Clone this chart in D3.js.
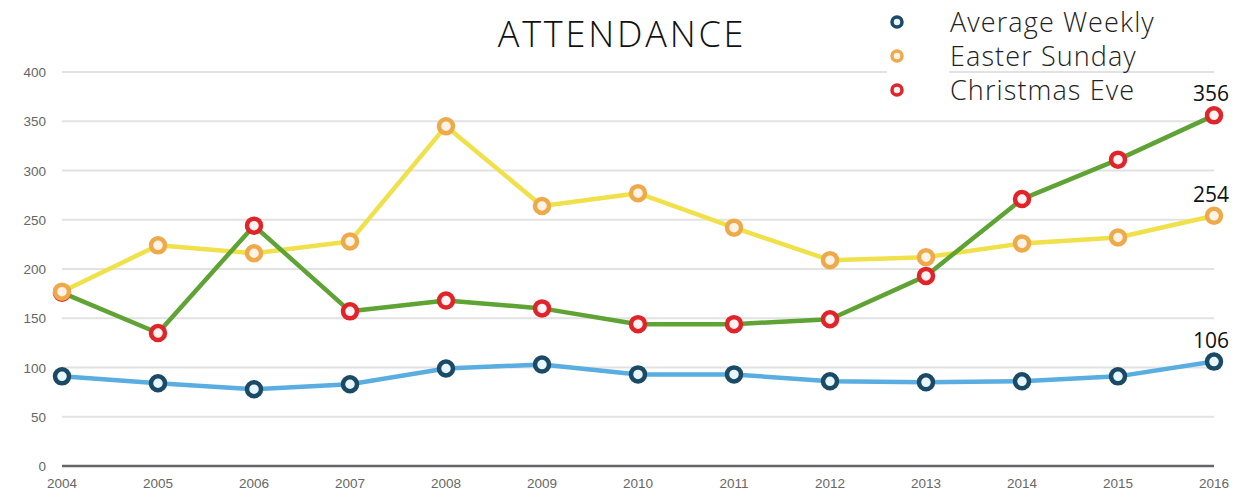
<!DOCTYPE html>
<html>
<head>
<meta charset="utf-8">
<script src="https://cdn.jsdelivr.net/npm/d3@7"></script>
<style>
  body { margin: 0; background: #fff; }
</style>
</head>
<body>
<div id="chart"></div>
<script>
// data
const years = [2004, 2005, 2006, 2007, 2008, 2009, 2010, 2011, 2012, 2013, 2014, 2015, 2016];
const averageWeekly = [91, 84, 78, 83, 99, 103, 93, 93, 86, 85, 86, 91, 106];
const easterSunday = [177, 224, 216, 228, 345, 264, 277, 242, 209, 212, 226, 232, 254];
const christmasEve = [176, 135, 244, 157, 168, 160, 144, 144, 149, 193, 271, 311, 356];
const yTicks = [0, 50, 100, 150, 200, 250, 300, 350, 400];

const width = 1251;
const height = 500;

const svg = d3.select("#chart").append("svg")
  .attr("width", width)
  .attr("height", height);

const x = d3.scalePoint().domain(years).range([62, 1214]);
const y = d3.scaleLinear().domain([0, 400]).range([466, 72]);

// gridlines
svg.append("g")
  .selectAll("line")
  .data(yTicks.filter(d => d > 0))
  .enter()
  .append("line")
  .attr("x1", 62).attr("x2", 1214)
  .attr("y1", d => y(d)).attr("y2", d => y(d))
  .attr("stroke", "#e2e2e2")
  .attr("stroke-width", 2);

// y labels
svg.append("g")
  .selectAll("text")
  .data(yTicks)
  .enter()
  .append("text")
  .attr("x", 46)
  .attr("y", d => y(d) + 5)
  .attr("text-anchor", "end")
  .attr("font-family", "Liberation Sans, sans-serif")
  .attr("font-size", 13.5)
  .attr("fill", "#666")
  .text(d => d);

// x axis line
svg.append("line")
  .attr("x1", 62).attr("x2", 1214)
  .attr("y1", y(0)).attr("y2", y(0))
  .attr("stroke", "#666")
  .attr("stroke-width", 2.5);

// x labels
svg.append("g")
  .selectAll("text")
  .data(years)
  .enter()
  .append("text")
  .attr("x", d => x(d))
  .attr("y", 488)
  .attr("text-anchor", "middle")
  .attr("font-family", "Liberation Sans, sans-serif")
  .attr("font-size", 13.5)
  .attr("fill", "#666")
  .text(d => d);

const series = [
  { name: "Average Weekly", values: averageWeekly, line: "#5aade0", marker: "#1b4a66", fill: "#e8f6ff" },
  { name: "Easter Sunday", values: easterSunday, line: "#f0e04a", marker: "#eeaa4a", fill: "#fff3e6" },
  { name: "Christmas Eve", values: christmasEve, line: "#5ea334", marker: "#e0242a", fill: "#fff2f2" }
];

const line = d3.line()
  .x((d, i) => x(years[i]))
  .y(d => y(d));

// lines first, then markers
series.forEach(s => {
  svg.append("path")
    .attr("d", line(s.values))
    .attr("fill", "none")
    .attr("stroke", s.line)
    .attr("stroke-width", 4.5)
    .attr("stroke-linejoin", "round");
});

// easter markers sit on top (see 2004)
[series[0], series[2], series[1]].forEach(s => {
  svg.append("g")
    .selectAll("circle")
    .data(s.values)
    .enter()
    .append("circle")
    .attr("cx", (d, i) => x(years[i]))
    .attr("cy", d => y(d))
    .attr("r", 7)
    .attr("fill", s.fill)
    .attr("stroke", s.marker)
    .attr("stroke-width", 4.5);
});

// end value labels
series.forEach(s => {
  const last = s.values[s.values.length - 1];
  svg.append("text")
    .attr("x", x(years[years.length - 1]) - 3)
    .attr("y", y(last) - 14)
    .attr("text-anchor", "middle")
    .attr("font-family", "Open Sans, sans-serif")
    .attr("font-size", 21)
    .attr("fill", "#111")
    .text(last);
});

// title
svg.append("text")
  .attr("x", 622)
  .attr("y", 47)
  .attr("text-anchor", "middle")
  .attr("font-family", "Open Sans, sans-serif")
  .attr("font-weight", 300)
  .attr("font-size", 36)
  .attr("letter-spacing", 2.8)
  .attr("fill", "#111")
  .text("ATTENDANCE");

// legend
const legend = svg.append("g");
legend.append("rect")
  .attr("x", 887).attr("y", 0)
  .attr("width", 62).attr("height", 105)
  .attr("fill", "#fff");

const items = legend.selectAll("g")
  .data(series)
  .enter()
  .append("g")
  .attr("transform", (d, i) => `translate(0, ${22 + i * 34})`);

items.append("circle")
  .attr("cx", 897)
  .attr("cy", 0)
  .attr("r", 5)
  .attr("fill", d => d.fill)
  .attr("stroke", d => d.marker)
  .attr("stroke-width", 3.5);

items.append("text")
  .attr("x", 950)
  .attr("y", 10)
  .attr("font-family", "Open Sans, sans-serif")
  .attr("font-weight", 300)
  .attr("font-size", 27)
  .attr("letter-spacing", 1.1)
  .attr("fill", "#222")
  .text(d => d.name);
</script>
</body>
</html>
